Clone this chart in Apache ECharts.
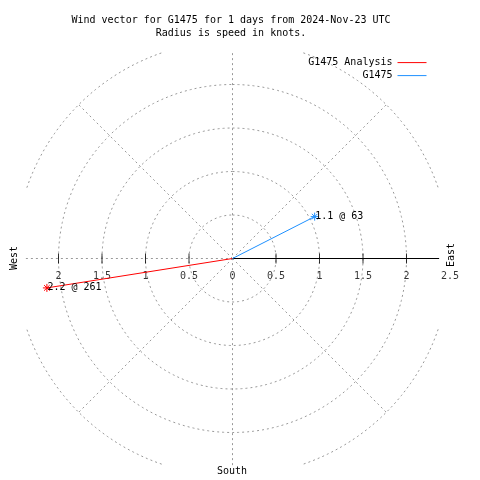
<!DOCTYPE html>
<html>
<head>
<meta charset="utf-8">
<script src="https://cdn.jsdelivr.net/npm/echarts@6/dist/echarts.min.js"></script>
<style>html,body{margin:0;padding:0;background:#fff}#c{width:480px;height:480px}</style>
</head>
<body>
<div id="c"></div>
<script>
// ---- data ----
const stations = ['G1475 Analysis', 'G1475'];
const speeds = [2.16, 1.06];          // knots
const directions = [261, 63];         // degrees, clockwise from north
const seriesColors = ['#ff0000', '#1e90ff'];
const ringRadii = [0.5, 1, 1.5, 2, 2.5];
const spokeAngles = [45, 135, 225, 315];
const tickValues = [-2, -1.5, -1, -0.5, 0.5, 1, 1.5, 2];
const tickLabelValues = [-2, -1.5, -1, -0.5, 0, 0.5, 1, 1.5, 2, 2.5];
const axisMin = -2.5, axisMax = 2.5, axisStep = 0.5;
const clipExtent = 2.375;
const titleLines = ['Wind vector for G1475 for 1 days from 2024-Nov-23 UTC', 'Radius is speed in knots.'];
const compassLabels = ['West', 'East', 'South'];

const FONT = 'DejaVu Sans Mono';
const rad = d => d * Math.PI / 180;
const toXY = (s, d) => [s * Math.sin(rad(d)), s * Math.cos(rad(d))];

const chart = echarts.init(document.getElementById('c'), null, {renderer: 'canvas'});
const grayLine = {color: '#999999', width: 1, type: [2, 3]};
const gridSeries = [];
function addSeg(pts, style, z) {
  gridSeries.push({type: 'line', data: pts, showSymbol: false, symbol: 'none', silent: true,
    lineStyle: style, z: z || 1, animation: false});
}
// rings (clipped to square box)
ringRadii.forEach(r => {
  let seg = [];
  for (let a = 0; a <= 360; a += 1) {
    const p = toXY(r, a);
    if (Math.abs(p[0]) <= clipExtent + 1e-9 && Math.abs(p[1]) <= clipExtent + 1e-9) seg.push(p);
    else { if (seg.length > 1) addSeg(seg, grayLine); seg = []; }
  }
  if (seg.length > 1) addSeg(seg, grayLine);
});
// spokes
spokeAngles.forEach(a => addSeg([[0, 0], toXY(axisMax, a)], grayLine));
addSeg([[0, -clipExtent], [0, clipExtent]], grayLine);
addSeg([[-clipExtent, 0], [0, 0]], grayLine);
addSeg([[0, 0], [clipExtent, 0]], {color: '#000', width: 1, type: 'solid'}, 2);
// ticks
gridSeries.push({type: 'scatter', data: tickValues.map(v => [v, 0]), symbol: 'rect', symbolSize: [1, 10],
  itemStyle: {color: '#000'}, silent: true, z: 3, animation: false});
// tick labels
gridSeries.push({type: 'scatter', data: tickLabelValues.map(v => [v, 0]), symbol: 'rect', symbolSize: [1, 10],
  itemStyle: {color: 'rgba(0,0,0,0)'}, silent: true, z: 3, animation: false,
  label: {show: true, position: 'bottom', distance: 8, color: '#000', fontFamily: FONT, fontSize: 10,
    formatter: p => String(Math.abs(p.value[0]))}});

const star = 'path://M4,0L4,8M0,4L8,4M1.2,1.2L6.8,6.8M1.2,6.8L6.8,1.2';
const vecSeries = stations.map((name, i) => ({
  name: name, type: 'line', symbol: 'none', showSymbol: true, z: 5, animation: false,
  lineStyle: {color: seriesColors[i], width: 1},
  itemStyle: {color: seriesColors[i]},
  data: [
    {value: [0, 0], symbol: 'none'},
    {value: toXY(speeds[i], directions[i]), symbol: star, symbolSize: 8,
     itemStyle: {color: 'rgba(0,0,0,0)', borderColor: seriesColors[i], borderWidth: 1},
     label: {show: true, position: 'right', distance: -4, color: '#000', fontFamily: FONT, fontSize: 10,
       formatter: speeds[i].toFixed(1) + ' @ ' + directions[i]}}
  ]
}));

const txt = {fill: '#000', fontFamily: FONT, fontSize: 10};
const legendBase = {orient: 'vertical', align: 'right', padding: 0, right: 53,
  itemWidth: 29, itemHeight: 14, itemStyle: {opacity: 0},
  lineStyle: {width: 1}, textStyle: {fontFamily: FONT, fontSize: 10, color: '#000'}};
chart.setOption({
  animation: false,
  title: {text: titleLines.join('\n'), left: 231, top: 14, textAlign: 'center', padding: 0,
    textStyle: {fontFamily: FONT, fontSize: 10, fontWeight: 'normal', color: '#000', lineHeight: 13}},
  legend: [
    Object.assign({data: [stations[0]], top: 57}, legendBase),
    Object.assign({data: [stations[1]], top: 70}, legendBase)
  ],
  grid: {left: 15, top: 41, width: 435, height: 435, containLabel: false, outerBoundsMode: 'none'},
  xAxis: {type: 'value', min: axisMin, max: axisMax, interval: axisStep, show: false},
  yAxis: {type: 'value', min: axisMin, max: axisMax, interval: axisStep, show: false},
  graphic: [
    {type: 'text', x: 14, y: 258, rotation: Math.PI / 2, style: Object.assign({text: compassLabels[0], align: 'center', verticalAlign: 'middle'}, txt)},
    {type: 'text', x: 451, y: 255, rotation: Math.PI / 2, style: Object.assign({text: compassLabels[1], align: 'center', verticalAlign: 'middle'}, txt)},
    {type: 'text', x: 232, y: 471, style: Object.assign({text: compassLabels[2], align: 'center', verticalAlign: 'middle'}, txt)}
  ],
  series: gridSeries.concat(vecSeries)
});
</script>
</body>
</html>
